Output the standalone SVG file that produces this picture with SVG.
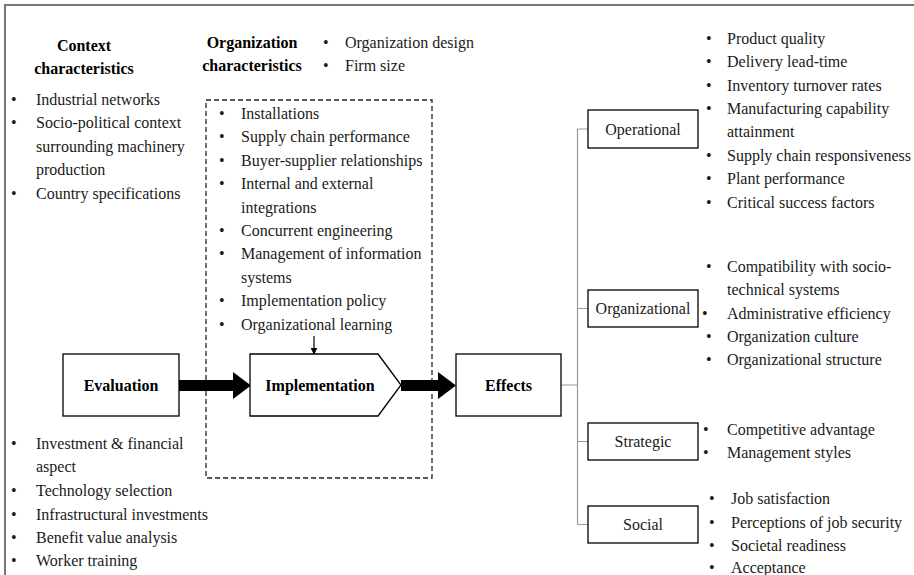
<svg xmlns="http://www.w3.org/2000/svg" width="914" height="575" viewBox="0 0 914 575">
<defs>
<style>
text{font-family:"Liberation Serif","Times New Roman",serif;font-size:16px;fill:#1a1a1a}
.b{font-weight:bold;fill:#000}
.c{text-anchor:middle}
.box{fill:#fff;stroke:#000;stroke-width:1.3}
.conn{stroke:#999;stroke-width:1.2;fill:none}
</style>
<marker id="ah" viewBox="0 0 10 10" refX="9" refY="5" markerWidth="7" markerHeight="7" markerUnits="userSpaceOnUse" orient="auto"><path d="M0,0L10,5L0,10z" fill="#000"/></marker>
</defs>
<rect width="914" height="575" fill="#fff"/>
<path d="M5,575V5H914" fill="none" stroke="#777" stroke-width="2"/>

<g id="context">
<text class="b c" x="84" y="51">Context</text>
<text class="b c" x="84" y="74">characteristics</text>
<text x="11" y="105">•</text><text x="36" y="105">Industrial networks</text>
<text x="11" y="128">•</text><text x="36" y="128">Socio-political context</text>
<text x="36" y="152">surrounding machinery</text>
<text x="36" y="175">production</text>
<text x="11" y="199">•</text><text x="36" y="199">Country specifications</text>
</g>

<g id="org-char">
<text class="b c" x="252" y="48">Organization</text>
<text class="b c" x="252" y="71">characteristics</text>
<text x="323" y="48">•</text><text x="345" y="48">Organization design</text>
<text x="323" y="71">•</text><text x="345" y="71">Firm size</text>
</g>

<g id="impl-factors">
<rect x="206" y="100" width="226" height="378" fill="none" stroke="#222" stroke-width="1.3" stroke-dasharray="5,3"/>
<text x="219" y="119">•</text><text x="241" y="119">Installations</text>
<text x="219" y="142.4">•</text><text x="241" y="142.4">Supply chain performance</text>
<text x="219" y="165.8">•</text><text x="241" y="165.8">Buyer-supplier relationships</text>
<text x="219" y="189.2">•</text><text x="241" y="189.2">Internal and external</text>
<text x="241" y="212.6">integrations</text>
<text x="219" y="236">•</text><text x="241" y="236">Concurrent engineering</text>
<text x="219" y="259.4">•</text><text x="241" y="259.4">Management of information</text>
<text x="241" y="282.8">systems</text>
<text x="219" y="306.2">•</text><text x="241" y="306.2">Implementation policy</text>
<text x="219" y="329.6">•</text><text x="241" y="329.6">Organizational learning</text>
</g>

<g id="investment">
<text x="11" y="449">•</text><text x="36" y="449">Investment &amp; financial</text>
<text x="36" y="472">aspect</text>
<text x="11" y="496">•</text><text x="36" y="496">Technology selection</text>
<text x="11" y="520">•</text><text x="36" y="520">Infrastructural investments</text>
<text x="11" y="543">•</text><text x="36" y="543">Benefit value analysis</text>
<text x="11" y="566">•</text><text x="36" y="566">Worker training</text>
</g>

<g id="connectors">
<line x1="314" y1="336" x2="314" y2="354" stroke="#000" stroke-width="1.2" marker-end="url(#ah)"/>
<path d="M179,380H233V372L251,385.5L233,399V391H179z" fill="#000"/>
<path d="M401,380H438V372L456,385.5L438,399V391H401z" fill="#000"/>
<path class="conn" d="M561,385H577.5M577.5,129V524.5M577.5,129H588M577.5,308.5H588M577.5,441.5H588M577.5,524.5H588"/>
</g>

<g id="evaluation">
<rect class="box" x="63" y="354" width="116" height="62"/>
<text class="b c" x="121" y="391">Evaluation</text>
</g>

<g id="implementation">
<path class="box" d="M250,354H378L401,385L378,416H250z"/>
<text class="b c" x="320" y="391">Implementation</text>
</g>

<g id="effects">
<rect class="box" x="456" y="354" width="105" height="62"/>
<text class="b c" x="508.5" y="391">Effects</text>
</g>

<g id="operational">
<rect class="box" x="588" y="110" width="110" height="38"/>
<text class="c" x="643" y="134.5">Operational</text>
<text x="706" y="44">•</text><text x="727" y="44">Product quality</text>
<text x="706" y="67">•</text><text x="727" y="67">Delivery lead-time</text>
<text x="706" y="91">•</text><text x="727" y="91">Inventory turnover rates</text>
<text x="706" y="114">•</text><text x="727" y="114">Manufacturing capability</text>
<text x="727" y="137">attainment</text>
<text x="706" y="161">•</text><text x="727" y="161">Supply chain responsiveness</text>
<text x="706" y="184">•</text><text x="727" y="184">Plant performance</text>
<text x="706" y="208">•</text><text x="727" y="208">Critical success factors</text>
</g>

<g id="organizational">
<rect class="box" x="588" y="290" width="110" height="37"/>
<text class="c" x="643" y="314">Organizational</text>
<text x="706" y="272">•</text><text x="727" y="272">Compatibility with socio-</text>
<text x="727" y="295">technical systems</text>
<text x="702" y="319">•</text><text x="727" y="319">Administrative efficiency</text>
<text x="706" y="342">•</text><text x="727" y="342">Organization culture</text>
<text x="706" y="365">•</text><text x="727" y="365">Organizational structure</text>
</g>

<g id="strategic">
<rect class="box" x="588" y="423" width="110" height="37"/>
<text class="c" x="643" y="447">Strategic</text>
<text x="703" y="435">•</text><text x="727" y="435">Competitive advantage</text>
<text x="703" y="458">•</text><text x="727" y="458">Management styles</text>
</g>

<g id="social">
<rect class="box" x="588" y="506" width="110" height="37"/>
<text class="c" x="643" y="530">Social</text>
<text x="709" y="504">•</text><text x="731" y="504">Job satisfaction</text>
<text x="709" y="528">•</text><text x="731" y="528">Perceptions of job security</text>
<text x="709" y="551">•</text><text x="731" y="551">Societal readiness</text>
<text x="709" y="573">•</text><text x="731" y="573">Acceptance</text>
</g>
</svg>
